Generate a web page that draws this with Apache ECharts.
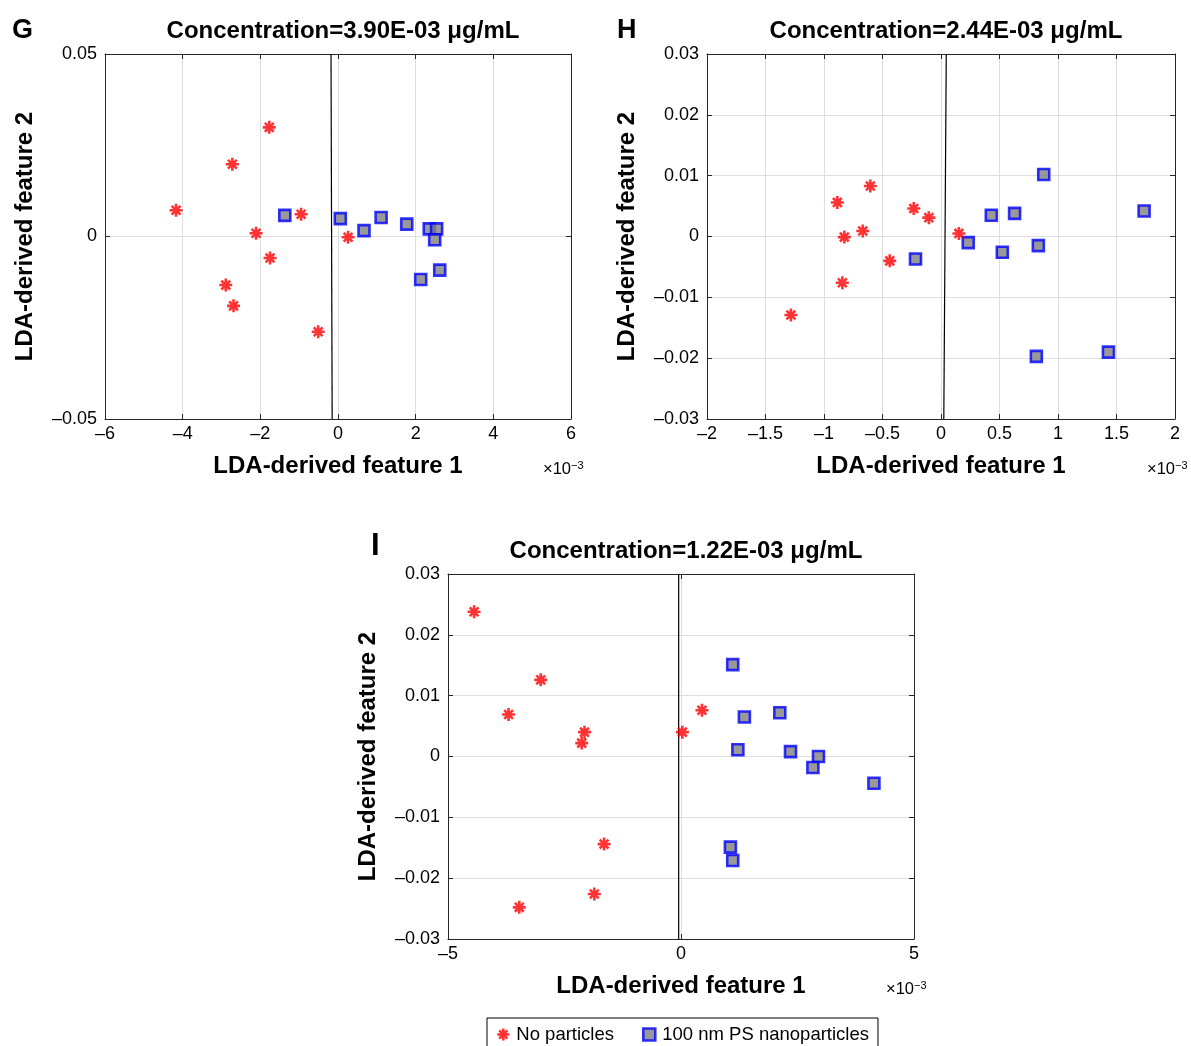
<!DOCTYPE html>
<html><head><meta charset="utf-8">
<script src="https://cdn.jsdelivr.net/npm/echarts@6/dist/echarts.min.js"></script>
<style>html,body{margin:0;padding:0;background:#fff}#c{width:1191px;height:1046px}</style>
</head><body><div id="c"></div>
<script>
// x values are in units of 1e-3 (axis shows ×10^-3)
const gRed = [[-1.77,0.0299],[-2.72,0.0198],[-4.17,0.0072],[-0.95,0.0061],[-2.11,0.0009],[-1.75,-0.0059],[-2.89,-0.0133],[-2.69,-0.019],[-0.51,-0.0261],[0.26,-0.0002]];
const gBlue = [[-1.37,0.0058],[0.06,0.0049],[1.11,0.0052],[0.67,0.0016],[1.77,0.0034],[2.35,0.0021],[2.54,0.0021],[2.49,-0.0009],[2.62,-0.0092],[2.13,-0.0118]];
const gLine = [[-0.18,0.05],[-0.15,-0.05]];
const hRed = [[-0.604,0.0083],[-0.886,0.0056],[-0.233,0.0046],[-0.104,0.0031],[-0.669,0.0009],[-0.826,-0.0001],[0.153,0.0005],[-0.438,-0.004],[-0.843,-0.0076],[-1.283,-0.0129]];
const hBlue = [[0.878,0.0102],[1.736,0.0042],[0.43,0.0035],[0.629,0.0038],[0.233,-0.001],[0.524,-0.0026],[0.832,-0.0015],[-0.218,-0.0037],[0.815,-0.0197],[1.431,-0.019]];
const hLine = [[0.045,0.03],[0.024,-0.03]];
const iRed = [[-4.44,0.0238],[-3.01,0.0126],[-3.70,0.0069],[-2.07,0.004],[-2.13,0.0022],[0.03,0.004],[0.45,0.0076],[-1.65,-0.0144],[-1.86,-0.0226],[-3.47,-0.0248]];
const iBlue = [[1.11,0.0151],[1.36,0.0065],[2.12,0.0072],[1.22,0.0011],[2.35,0.0008],[2.95,0.0],[2.83,-0.0018],[4.14,-0.0044],[1.06,-0.0149],[1.11,-0.0171]];
const iLine = [[-0.05,0.03],[-0.05,-0.03]];

const titles = ['Concentration=3.90E-03 μg/mL','Concentration=2.44E-03 μg/mL','Concentration=1.22E-03 μg/mL'];
const letters = ['G','H','I'];
const xNames = 'LDA-derived feature 1';
const yNames = 'LDA-derived feature 2';
const seriesNames = ['No particles','100 nm PS nanoparticles'];
const xRanges = [[-6,6,2],[-2,2,0.5],[-5,5,5]];
const yRanges = [[-0.05,0.05,0.05],[-0.03,0.03,0.01],[-0.03,0.03,0.01]];

const FONT = '"Liberation Sans", Arial, Helvetica, sans-serif';
const AX = '#262626';
const grids = [
  {left:105, top:54, width:466, height:365},
  {left:707, top:54, width:468, height:365},
  {left:448, top:574, width:466, height:365}
];
const fmt = v => String(v).replace('-', '\u2013');
const star = 'path://M5,0L5,10M0,5L10,5M1.6,1.6L8.4,8.4M1.6,8.4L8.4,1.6';
const redStyle = {color:'rgba(0,0,0,0)', borderColor:'#ff0000', borderWidth:2.6};
const blueStyle = {color:'#808080', borderColor:'#0000ff', borderWidth:2.6};

const xAxis=[], yAxis=[], series=[], title=[];
const reds=[gRed,hRed,iRed], blues=[gBlue,hBlue,iBlue], lines=[gLine,hLine,iLine];
grids.forEach((g,i)=>{
  const [x0,x1,xi]=xRanges[i], [y0,y1,yi]=yRanges[i];
  xAxis.push({type:'value', gridIndex:i, min:x0, max:x1, interval:xi, position:'bottom',
    axisLine:{show:true, onZero:false, lineStyle:{color:AX, width:1}},
    axisTick:{show:true, inside:true, length:5, lineStyle:{color:AX}},
    axisLabel:{color:'#000', fontSize:18, fontFamily:FONT, margin:6, formatter:fmt},
    splitLine:{show:true, lineStyle:{color:'#dedede', width:1}},
    name:xNames, nameLocation:'middle', nameGap:35,
    nameTextStyle:{color:'#000', fontSize:24, fontWeight:'bold', fontFamily:FONT}});
  xAxis.push({type:'value', gridIndex:i, min:x0, max:x1, interval:xi, position:'top',
    axisLine:{show:true, onZero:false, lineStyle:{color:AX, width:1}},
    axisTick:{show:true, inside:true, length:5, lineStyle:{color:AX}},
    axisLabel:{show:false}, splitLine:{show:false}});
  yAxis.push({type:'value', gridIndex:i, min:y0, max:y1, interval:yi, position:'left',
    axisLine:{show:true, onZero:false, lineStyle:{color:AX, width:1}},
    axisTick:{show:true, inside:true, length:5, lineStyle:{color:AX}},
    axisLabel:{color:'#000', fontSize:18, fontFamily:FONT, margin:8, formatter:fmt},
    splitLine:{show:true, lineStyle:{color:'#dedede', width:1}},
    name:yNames, nameLocation:'middle', nameGap:68, nameRotate:90,
    nameTextStyle:{color:'#000', fontSize:24, fontWeight:'bold', fontFamily:FONT}});
  yAxis.push({type:'value', gridIndex:i, min:y0, max:y1, interval:yi, position:'right',
    axisLine:{show:true, onZero:false, lineStyle:{color:AX, width:1}},
    axisTick:{show:true, inside:true, length:5, lineStyle:{color:AX}},
    axisLabel:{show:false}, splitLine:{show:false}});
  series.push({type:'line', name:'boundary'+i, xAxisIndex:2*i, yAxisIndex:2*i, data:lines[i],
    showSymbol:false, symbol:'none', silent:true, lineStyle:{color:'#000', width:1.2}, z:1});
  series.push({type:'scatter', name:seriesNames[0], xAxisIndex:2*i, yAxisIndex:2*i, data:reds[i],
    symbol:star, symbolSize:13, itemStyle:redStyle, z:3});
  series.push({type:'scatter', name:seriesNames[1], xAxisIndex:2*i, yAxisIndex:2*i, data:blues[i],
    symbol:'rect', symbolSize:11, itemStyle:blueStyle, z:2});
  const cx = g.left + g.width/2;
  title.push({text:titles[i], left:cx, top:g.top-40, textAlign:'center',
    textStyle:{fontSize:24, fontWeight:'bold', color:'#000', fontFamily:FONT}});
  title.push({text:'{a|×10}{b|\u22123}', left:g.left+g.width-33, top:g.top+g.height+36,
    textStyle:{fontWeight:'normal', rich:{a:{fontSize:16.5, fontWeight:'normal', color:'#000', fontFamily:FONT},
      b:{fontSize:11, fontWeight:'normal', color:'#000', fontFamily:FONT, padding:[0,0,8,0]}}}});
});
title.push({text:letters[0], left:7, top:12, textStyle:{fontSize:27, fontWeight:'bold', color:'#000', fontFamily:FONT}});
title.push({text:letters[1], left:612, top:12, textStyle:{fontSize:27, fontWeight:'bold', color:'#000', fontFamily:FONT}});
title.push({text:letters[2], left:366, top:526, textStyle:{fontSize:31, fontWeight:'bold', color:'#000', fontFamily:FONT}});

const chart = echarts.init(document.getElementById('c'), null, {renderer:'canvas'});
chart.setOption({
  animation:false,
  backgroundColor:'#fff',
  grid:grids,
  xAxis, yAxis, series, title,
  legend:{left:487, top:1018, orient:'horizontal', itemWidth:12, itemHeight:12, itemGap:28,
    padding:[7,9,12,9], borderColor:'#000', borderWidth:1, borderRadius:0,
    textStyle:{fontSize:18.5, color:'#000', fontFamily:FONT, padding:[0,0,0,2]},
    data:[{name:seriesNames[0], icon:star, itemStyle:redStyle},
          {name:seriesNames[1], icon:'rect', itemStyle:blueStyle}]}
});
</script></body></html>
